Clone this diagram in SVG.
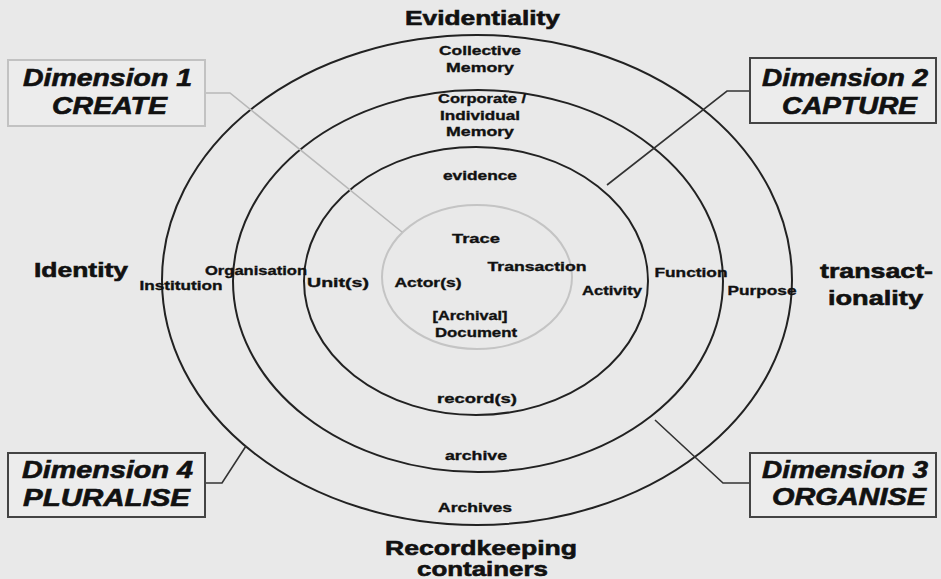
<svg xmlns="http://www.w3.org/2000/svg" width="941" height="579" viewBox="0 0 941 579">
<style>
.bg{fill:#e9e9e9}
.ring{fill:none;stroke:#222;stroke-width:2}
.inner{fill:none;stroke:#c4c4c4;stroke-width:2}
.box{fill:#ececec;stroke:#444;stroke-width:2}
.box1{fill:#ececec;stroke:#c2c2c2;stroke-width:2}
.conn{fill:none;stroke:#333;stroke-width:1.6}
.conn1{fill:none;stroke:#b8b8b8;stroke-width:1.6}
text{font-family:"Liberation Sans",Arial,sans-serif;font-weight:bold;fill:#111;stroke:#111;stroke-width:0.35}
.s{font-size:13px;text-anchor:middle}
.b{font-size:21px;stroke-width:0.6}
.d{font-size:23px;font-style:italic;stroke-width:0.6}
</style>
<rect class="bg" x="0" y="0" width="941" height="579"/>
<g id="rings">
<ellipse id="ring-outer" class="ring" cx="477" cy="280" rx="315" ry="245"/>
<ellipse id="ring-2" class="ring" cx="478" cy="281" rx="245" ry="191"/>
<ellipse id="ring-3" class="ring" cx="476" cy="281" rx="172" ry="134"/>
<ellipse id="ring-inner" class="inner" cx="477" cy="277" rx="95" ry="72"/>
</g>
<g id="connectors">
<polyline class="conn1" points="205,93 230,93 402,232"/>
<polyline class="conn" points="750,91 727,91 607,185"/>
<polyline class="conn" points="750,483 723,483 655,420"/>
<polyline class="conn" points="205,483 222,483 246,446"/>
</g>
<g id="dim1">
<rect class="box1" x="8" y="60" width="197" height="66"/>
<text class="d" x="23" y="86" textLength="169" lengthAdjust="spacingAndGlyphs">Dimension 1</text>
<text class="d" x="52" y="114" textLength="115" lengthAdjust="spacingAndGlyphs">CREATE</text>
</g>
<g id="dim2">
<rect class="box" x="750" y="58" width="186" height="65"/>
<text class="d" x="762" y="86" textLength="166" lengthAdjust="spacingAndGlyphs">Dimension 2</text>
<text class="d" x="782" y="114" textLength="135" lengthAdjust="spacingAndGlyphs">CAPTURE</text>
</g>
<g id="dim3">
<rect class="box" x="750" y="453" width="186" height="64"/>
<text class="d" x="762" y="478" textLength="166" lengthAdjust="spacingAndGlyphs">Dimension 3</text>
<text class="d" x="772" y="505" textLength="154" lengthAdjust="spacingAndGlyphs">ORGANISE</text>
</g>
<g id="dim4">
<rect class="box" x="8" y="453" width="197" height="64"/>
<text class="d" x="22" y="478" textLength="171" lengthAdjust="spacingAndGlyphs">Dimension 4</text>
<text class="d" x="23" y="506" textLength="167" lengthAdjust="spacingAndGlyphs">PLURALISE</text>
</g>
<g id="axis-labels">
<text class="b" x="405" y="25" textLength="155" lengthAdjust="spacingAndGlyphs">Evidentiality</text>
<text class="b" x="34" y="277" textLength="94" lengthAdjust="spacingAndGlyphs">Identity</text>
<text class="b" x="820" y="278" textLength="113" lengthAdjust="spacingAndGlyphs">transact-</text>
<text class="b" x="828" y="305" textLength="95" lengthAdjust="spacingAndGlyphs">ionality</text>
<text class="b" x="385" y="555" textLength="192" lengthAdjust="spacingAndGlyphs">Recordkeeping</text>
<text class="b" x="417" y="576" textLength="131" lengthAdjust="spacingAndGlyphs">containers</text>
</g>
<g id="labels">
<text class="s" x="480" y="55" textLength="82" lengthAdjust="spacingAndGlyphs">Collective</text>
<text class="s" x="480" y="72" textLength="68" lengthAdjust="spacingAndGlyphs">Memory</text>
<text class="s" x="482" y="103" textLength="88" lengthAdjust="spacingAndGlyphs">Corporate /</text>
<text class="s" x="480" y="120" textLength="80" lengthAdjust="spacingAndGlyphs">Individual</text>
<text class="s" x="480" y="136" textLength="68" lengthAdjust="spacingAndGlyphs">Memory</text>
<text class="s" x="480" y="180" textLength="74" lengthAdjust="spacingAndGlyphs">evidence</text>
<text class="s" x="476" y="243" textLength="48" lengthAdjust="spacingAndGlyphs">Trace</text>
<text class="s" x="537" y="271" textLength="99" lengthAdjust="spacingAndGlyphs">Transaction</text>
<text class="s" x="428" y="287" textLength="67" lengthAdjust="spacingAndGlyphs">Actor(s)</text>
<text class="s" x="470" y="320" textLength="75" lengthAdjust="spacingAndGlyphs">[Archival]</text>
<text class="s" x="476" y="337" textLength="82" lengthAdjust="spacingAndGlyphs">Document</text>
<text class="s" x="181" y="290" textLength="83" lengthAdjust="spacingAndGlyphs">Institution</text>
<text class="s" x="256" y="275" textLength="102" lengthAdjust="spacingAndGlyphs">Organisation</text>
<text class="s" x="338" y="287" textLength="62" lengthAdjust="spacingAndGlyphs">Unit(s)</text>
<text class="s" x="612" y="295" textLength="60" lengthAdjust="spacingAndGlyphs">Activity</text>
<text class="s" x="691" y="277" textLength="73" lengthAdjust="spacingAndGlyphs">Function</text>
<text class="s" x="762" y="295" textLength="69" lengthAdjust="spacingAndGlyphs">Purpose</text>
<text class="s" x="477" y="403" textLength="80" lengthAdjust="spacingAndGlyphs">record(s)</text>
<text class="s" x="476" y="460" textLength="62" lengthAdjust="spacingAndGlyphs">archive</text>
<text class="s" x="475" y="512" textLength="74" lengthAdjust="spacingAndGlyphs">Archives</text>
</g>
</svg>
